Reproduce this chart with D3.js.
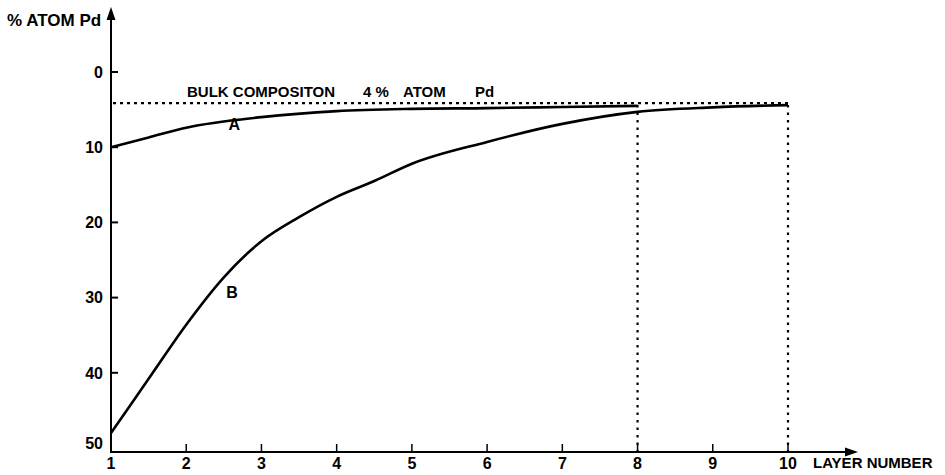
<!DOCTYPE html>
<html>
<head>
<meta charset="utf-8">
<script src="https://cdn.jsdelivr.net/npm/d3@7"></script>
<style>
  body { margin: 0; background: #fff; }
  text { font-family: "Liberation Sans", Arial, sans-serif; font-weight: bold; fill: #000; }
</style>
</head>
<body>
<div id="chart"></div>
<script>
// layer numbers and % atom Pd
const layersA = [1, 1.5, 2, 3, 4, 5, 6, 7, 8];
const pdA = [10.0, 8.7, 7.4, 6.0, 5.2, 4.9, 4.8, 4.65, 4.5];

const layersB = [1, 1.25, 1.5, 2, 2.5, 3, 3.5, 4, 4.5, 5, 6, 7, 8, 9, 10];
const pdB = [48.0, 44.4, 40.8, 33.6, 27.3, 22.5, 19.3, 16.6, 14.5, 12.2, 9.3, 6.9, 5.3, 4.7, 4.4];

const bulk = 4;
const xTicks = [1, 2, 3, 4, 5, 6, 7, 8, 9, 10];
const yTicks = [0, 10, 20, 30, 40, 50];
const dropLines = [8, 10];

const W = 945, H = 475;

const svg = d3.select("#chart").append("svg")
    .attr("width", W)
    .attr("height", H);

// scales: layer 1 sits on the y axis, % grows downward
let x = d3.scaleLinear().domain([1, 10]).range([111, 788]);
let y = d3.scaleLinear().domain([0, 50]).range([72, 448]);
let axisY = 452;

// axes lines
svg.append("line")
    .attr("x1", x(1)).attr("x2", x(1))
    .attr("y1", 16).attr("y2", axisY)
    .attr("stroke", "#000").attr("stroke-width", 2);
svg.append("path")
    .attr("d", `M${x(1)},7 L${x(1) - 4.5},20 L${x(1) + 4.5},20 Z`)
    .attr("fill", "#000");

svg.append("line")
    .attr("x1", x(1) - 1).attr("x2", 850)
    .attr("y1", axisY).attr("y2", axisY)
    .attr("stroke", "#000").attr("stroke-width", 2);
svg.append("path")
    .attr("d", `M858,${axisY} L845,${axisY - 4.5} L845,${axisY + 4.5} Z`)
    .attr("fill", "#000");

// y ticks (drawn to the right of the axis)
svg.selectAll(".ytick")
    .data(yTicks.filter(d => d < 50))
    .enter().append("line")
    .attr("x1", x(1)).attr("x2", x(1) + 7)
    .attr("y1", d => y(d)).attr("y2", d => y(d))
    .attr("stroke", "#000").attr("stroke-width", 2);

svg.selectAll(".ylab")
    .data(yTicks)
    .enter().append("text")
    .attr("x", 103)
    .attr("y", d => d === 50 ? y(d) - 5 : y(d))
    .attr("dy", "0.36em")
    .attr("text-anchor", "end")
    .attr("font-size", 16)
    .text(d => d);

// x ticks (upward)
svg.selectAll(".xtick")
    .data(xTicks.filter(d => d > 1))
    .enter().append("line")
    .attr("x1", d => x(d)).attr("x2", d => x(d))
    .attr("y1", axisY).attr("y2", axisY - 8)
    .attr("stroke", "#000").attr("stroke-width", 1.5);

svg.selectAll(".xlab")
    .data(xTicks)
    .enter().append("text")
    .attr("x", d => x(d))
    .attr("y", 463)
    .attr("dy", "0.36em")
    .attr("text-anchor", "middle")
    .attr("font-size", 16)
    .text(d => d);

svg.append("text")
    .attr("x", 813).attr("y", 463).attr("dy", "0.36em")
    .attr("font-size", 15)
    .text("LAYER NUMBER");

svg.append("text")
    .attr("x", 7).attr("y", 20).attr("dy", "0.36em")
    .attr("font-size", 17)
    .text("% ATOM Pd");

// bulk composition dotted line + drop lines
svg.append("line")
    .attr("x1", x(1) + 2).attr("x2", x(10))
    .attr("y1", y(bulk) + 1).attr("y2", y(bulk) + 1)
    .attr("stroke", "#000").attr("stroke-width", 2.2)
    .attr("stroke-dasharray", "3,4");

svg.selectAll(".drop")
    .data(dropLines)
    .enter().append("line")
    .attr("x1", d => x(d)).attr("x2", d => x(d))
    .attr("y1", d => y(bulk) + 3).attr("y2", axisY)
    .attr("stroke", "#000").attr("stroke-width", 2.2)
    .attr("stroke-dasharray", "2.5,5");

let bulkText = svg.append("text")
    .attr("y", y(bulk) - 5)
    .attr("font-size", 15);
bulkText.append("tspan").attr("x", 187).text("BULK COMPOSITON");
bulkText.append("tspan").attr("x", 363).text("4 %");
bulkText.append("tspan").attr("x", 403).text("ATOM");
bulkText.append("tspan").attr("x", 475).text("Pd");

// curves
let line = d3.line()
    .x(d => x(d[0]))
    .y(d => y(d[1]))
    .curve(d3.curveMonotoneX);

svg.append("path")
    .datum(d3.zip(layersA, pdA))
    .attr("d", line)
    .attr("fill", "none")
    .attr("stroke", "#000")
    .attr("stroke-width", 2.6);

svg.append("path")
    .datum(d3.zip(layersB, pdB))
    .attr("d", line)
    .attr("fill", "none")
    .attr("stroke", "#000")
    .attr("stroke-width", 2.6);

// curve labels
svg.append("text")
    .attr("x", x(2.64)).attr("y", y(6.9)).attr("dy", "0.36em")
    .attr("text-anchor", "middle").attr("font-size", 16)
    .text("A");
svg.append("text")
    .attr("x", x(2.61)).attr("y", y(29.3)).attr("dy", "0.36em")
    .attr("text-anchor", "middle").attr("font-size", 16)
    .text("B");
</script>
</body>
</html>
